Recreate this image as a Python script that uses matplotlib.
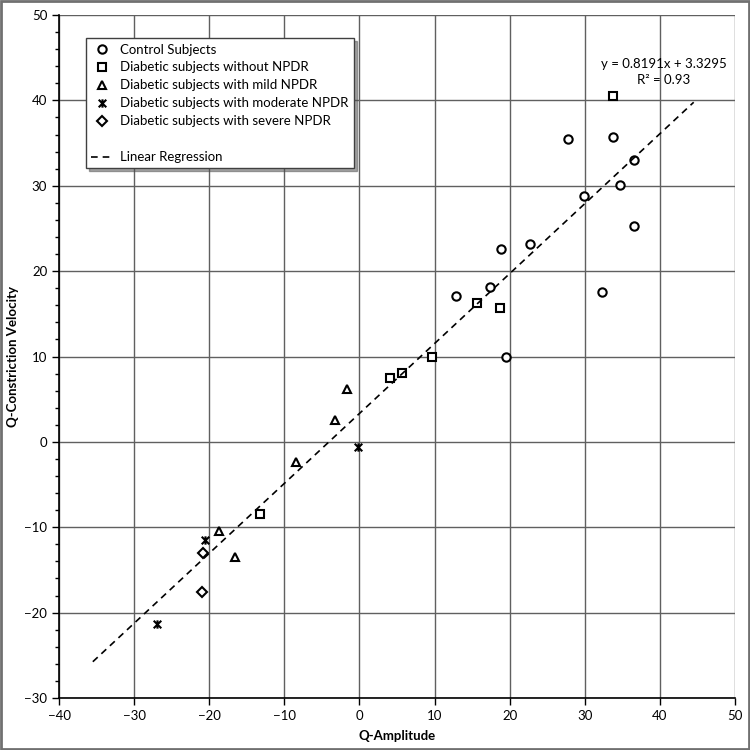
import matplotlib
matplotlib.use("Agg")
import matplotlib.pyplot as plt
from matplotlib.path import Path
from matplotlib.patches import Rectangle
from matplotlib.lines import Line2D
import numpy as np

plt.rcParams['font.family'] = ['Lato', 'DejaVu Sans']

control_x = [27.7, 33.8, 36.6, 34.65, 29.9, 36.6, 22.7, 18.9, 17.4, 12.8, 32.3, 19.5]
control_y = [35.5, 35.7, 33.05, 30.1, 28.8, 25.3, 23.2, 22.6, 18.2, 17.1, 17.5, 9.95]
nonpdr_x = [33.7, 15.65, 18.7, 9.66, 5.6, 4.0, -13.2]
nonpdr_y = [40.5, 16.3, 15.7, 9.94, 8.1, 7.45, -8.45]
mild_x = [-1.6, -3.2, -8.45, -18.75, -16.6]
mild_y = [6.2, 2.56, -2.3, -10.45, -13.5]
moderate_x = [-0.24, -20.5, -27.0]
moderate_y = [-0.64, -11.5, -21.3]
severe_x = [-20.8, -21.0]
severe_y = [-13.05, -17.55]

slope = 0.8191
intercept = 3.3295
r2 = 0.93
line_x = [-35.5, 44.5]

labels = ["Control Subjects", "Diabetic subjects without NPDR",
          "Diabetic subjects with mild NPDR", "Diabetic subjects with moderate NPDR",
          "Diabetic subjects with severe NPDR"]

star = Path([(-1, -1), (1, 1), (-1, 1), (1, -1), (0, -1.1), (0, 1.1)],
            [Path.MOVETO, Path.LINETO, Path.MOVETO, Path.LINETO, Path.MOVETO, Path.LINETO])

fig = plt.figure(figsize=(7.5, 7.5), dpi=100)
ax = fig.add_axes([0.0787, 0.0693, 0.9013, 0.9107])

kw = dict(linestyle='none', markerfacecolor='white', markeredgecolor='black', markeredgewidth=1.5)
h1, = ax.plot(control_x, control_y, marker='o', markersize=6, **kw)
h2, = ax.plot(nonpdr_x, nonpdr_y, marker='s', markersize=5.5, **kw)
h3, = ax.plot(mild_x, mild_y, marker='^', markersize=6, **kw)
h4, = ax.plot(moderate_x, moderate_y, marker=star, markersize=6, **kw)
h5, = ax.plot(severe_x, severe_y, marker='D', markersize=5, **kw)

lx = np.array(line_x)
h6, = ax.plot(lx, slope * lx + intercept, color='black', linestyle=(0, (4, 3)), linewidth=1.2)

ax.text(40.5, 43.3, f"y = {slope}x + {intercept}\nR\u00b2 = {r2}", ha='center', va='center',
        fontsize=9.5, linespacing=1.4)

ax.set_xlim(-40, 50)
ax.set_ylim(-30, 50)
ax.set_xticks(np.arange(-40, 51, 10))
ax.set_yticks(np.arange(-30, 51, 10))
ax.set_yticks(np.arange(-30, 51, 2), minor=True)
ax.tick_params(axis='both', direction='out', length=5, width=1, labelsize=9.5, colors='black')
ax.tick_params(axis='y', which='minor', direction='out', length=3, width=1)
ax.grid(True, which='major', color='#606060', linewidth=1)
ax.set_axisbelow(True)
for s in ['top', 'right']:
    ax.spines[s].set_visible(False)
for s in ['left', 'bottom']:
    ax.spines[s].set_linewidth(1.2)

ax.set_xlabel("Q-Amplitude", fontsize=9.5, fontweight='bold', labelpad=6)
ax.set_ylabel("Q-Constriction Velocity", fontsize=9.5, fontweight='bold', labelpad=4)

blank = Line2D([], [], linestyle='none', marker='none')
leg = ax.legend([h1, h2, h3, h4, h5, blank, h6], labels + ["", "Linear Regression"],
                loc='upper left', bbox_to_anchor=(0.04, 0.966), fontsize=9.5,
                frameon=True, fancybox=False, shadow=True, handlelength=1.6,
                handletextpad=0.6, borderpad=0.4, labelspacing=0.45, borderaxespad=0)
leg.get_frame().set_edgecolor('#404040')
leg.get_frame().set_linewidth(1)

fig.patches.append(Rectangle((0.0015, 0.0015), 0.997, 0.997, transform=fig.transFigure,
                             fill=False, edgecolor='#707070', linewidth=2))

fig.savefig("out.png", dpi=100)
